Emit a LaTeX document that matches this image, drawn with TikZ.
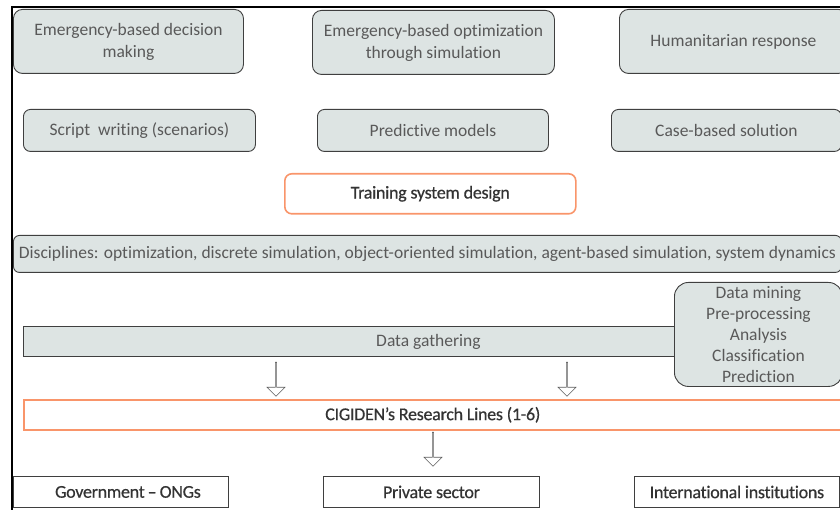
\documentclass[tikz,border=0pt]{standalone}
\usepackage{fontspec}
\setmainfont[RawFeature=-liga]{Carlito}
\newfontfamily\tightfont[LetterSpace=-1.5,FakeBold=0.5,RawFeature=-liga]{Carlito}
\usetikzlibrary{positioning,shapes.arrows}
\definecolor{boxfill}{HTML}{DDE4E3}
\definecolor{boxline}{HTML}{3F3F3F}
\definecolor{txtgrey}{HTML}{595959}
\definecolor{orangeline}{HTML}{F9956A}
\tikzset{
  card/.style={draw=boxline,fill=boxfill,rounded corners=9pt,text=txtgrey,align=center,
    inner sep=0pt,anchor=north west,font=\fontsize{17.5}{22}\selectfont},
  plain/.style={draw=boxline,fill=white,text=black!80,inner sep=0pt,anchor=north west,
    font=\tightfont\fontsize{18}{21}\selectfont},
  accent/.style={plain,draw=orangeline,line width=1.6pt},
  hollow/.style={single arrow,draw=boxline!85,fill=white,shape border rotate=270,
    minimum height=34pt,minimum width=18pt,single arrow head extend=4.5pt,inner sep=0pt,
    line width=0.6pt}
}
\begin{document}
\begin{tikzpicture}[x=1pt,y=-1pt,line width=0.9pt]
\clip (0,0) rectangle (840,510);
% frame
\draw[line width=2pt] (12,510) -- (12,7) -- (840,7);
% top row
\node[card,minimum width=230pt,minimum height=64pt] (e1) at (13,9) {Emergency-based decision\\making};
\node[card,minimum width=242pt,minimum height=64pt] (e2) at (312,10) {Emergency-based optimization\\through simulation};
\node[card,minimum width=228pt,minimum height=64pt] (e3) at (619,9) {Humanitarian response};
% second row
\node[card,rounded corners=7pt,minimum width=232pt,minimum height=42pt] (s1) at (23,109) {Script\ \ writing (scenarios)};
\node[card,rounded corners=7pt,minimum width=231pt,minimum height=42pt] (s2) at (317,109) {Predictive models};
\node[card,rounded corners=7pt,minimum width=230pt,minimum height=42pt] (s3) at (611,109) {Case-based solution};
% training
\node[accent,rounded corners=7pt,minimum width=291pt,minimum height=40pt] (tsd) at (284,173) {Training system design};
% disciplines
\node[card,rounded corners=6pt,minimum width=828pt,minimum height=37pt] (disc) at (13,235) {Disciplines: optimization, discrete simulation, object-oriented simulation, agent-based simulation, system dynamics};
% data
\node[card,rounded corners=0pt,minimum width=810pt,minimum height=30pt] (dg) at (23,326) {Data gathering};
\node[card,rounded corners=14pt,minimum width=168pt,minimum height=104pt,font=\fontsize{17.5}{21}\selectfont] (mine) at (674,282) {Data mining\\Pre-processing\\Analysis\\Classification\\Prediction};
% research lines
\node[accent,minimum width=818pt,minimum height=30pt] (cig) at (23,399) {CIGIDEN’s Research Lines (1-6)};
\node[hollow] (a1) at (276,379) {};
\node[hollow] (a2) at (567,379) {};
\node[hollow] (a3) at (433,449) {};
% users
\node[plain,minimum width=215pt,minimum height=31pt] (g1) at (13,476) {\hspace{14pt}Government\,–\,ONGs};
\node[plain,minimum width=216pt,minimum height=31pt] (g2) at (323,476) {Private sector};
\node[plain,minimum width=205pt,minimum height=31pt] (g3) at (634,476) {International institutions};
\end{tikzpicture}
\end{document}
